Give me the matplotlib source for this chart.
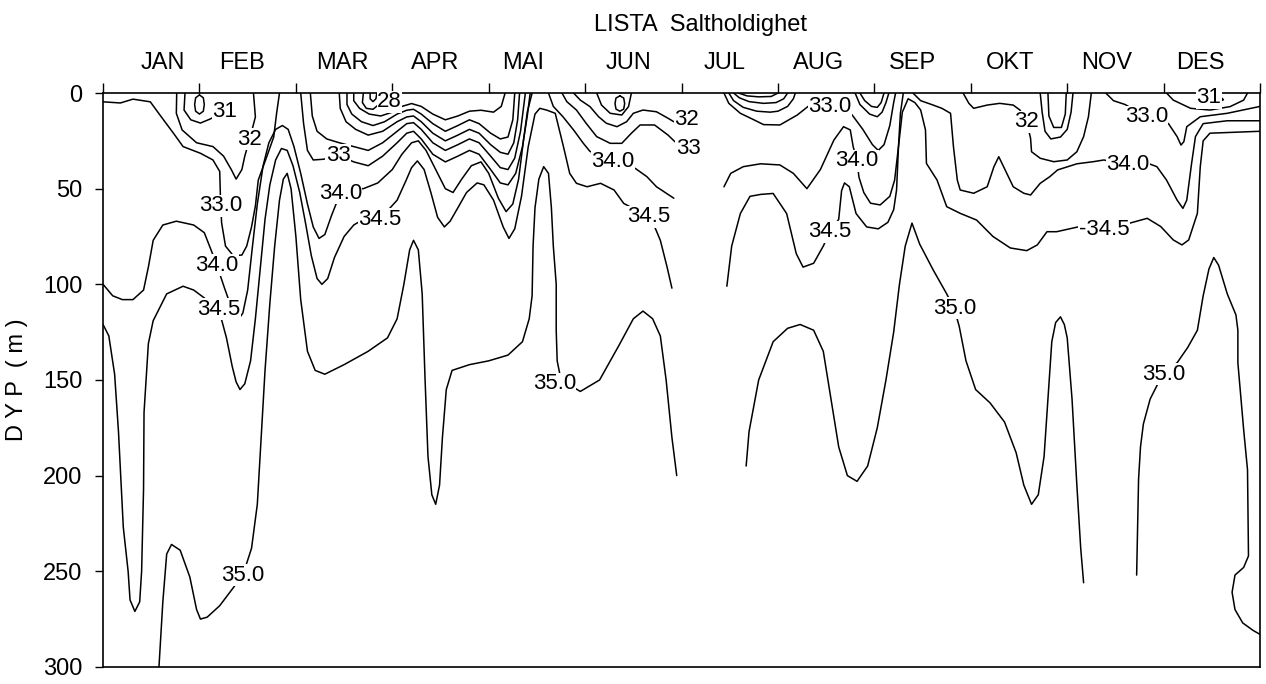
import numpy as np
import matplotlib.pyplot as plt

plt.rcParams['font.family'] = ['Liberation Sans', 'DejaVu Sans']

months = ['JAN', 'FEB', 'MAR', 'APR', 'MAI', 'JUN',
          'JUL', 'AUG', 'SEP', 'OKT', 'NOV', 'DES']
month_label_pos = [0.62, 1.44, 2.48, 3.44, 4.36, 5.45, 6.45, 7.42, 8.40, 9.41, 10.41, 11.38]
depth_ticks = [0, 50, 100, 150, 200, 250, 300]

# isolinjer som (maaned regnet fra 1. jan, dyp i m)
s350_a = [(0.58, 300), (0.62, 266), (0.66, 241), (0.71, 236), (0.80, 239), (0.90, 253),
          (0.97, 270), (1.01, 275), (1.08, 274), (1.21, 268), (1.36, 258), (1.45, 252),
          (1.54, 238), (1.6, 215), (1.64, 180), (1.68, 145), (1.73, 110), (1.78, 80),
          (1.83, 56), (1.87, 45), (1.91, 42), (1.95, 50), (2.0, 75), (2.05, 108),
          (2.12, 135), (2.2, 145), (2.3, 147), (2.5, 142), (2.75, 135), (2.95, 128),
          (3.05, 118), (3.12, 100), (3.18, 82), (3.22, 77), (3.27, 82), (3.31, 105),
          (3.34, 150), (3.37, 190), (3.41, 210), (3.45, 215), (3.49, 205), (3.52, 180),
          (3.56, 155), (3.62, 145), (3.8, 142), (4.0, 140), (4.2, 137), (4.35, 130),
          (4.42, 118), (4.45, 106), (4.46, 80), (4.48, 60), (4.52, 45), (4.57, 38.5),
          (4.62, 42), (4.65, 60), (4.67, 80), (4.70, 100), (4.70, 124), (4.71, 140),
          (4.75, 150), (4.95, 156), (5.15, 150), (5.35, 132), (5.5, 118), (5.6, 114),
          (5.7, 118), (5.78, 127), (5.84, 150), (5.9, 180), (5.95, 200)]
s350_b = [(6.67, 195), (6.7, 177), (6.8, 150), (6.95, 130), (7.1, 123), (7.23, 121),
          (7.37, 124), (7.47, 135), (7.55, 160), (7.63, 185), (7.72, 200), (7.82, 203),
          (7.93, 195), (8.03, 175), (8.12, 150), (8.2, 125), (8.26, 100), (8.32, 80),
          (8.39, 68), (8.47, 79), (8.61, 92.5), (8.75, 105), (8.83, 113), (8.88, 122),
          (8.95, 140), (9.05, 155), (9.2, 162), (9.35, 172), (9.47, 188), (9.55, 205),
          (9.63, 215), (9.7, 210), (9.76, 190), (9.8, 160), (9.84, 130), (9.88, 120),
          (9.93, 117), (9.97, 121), (10.0, 128), (10.05, 160), (10.1, 205), (10.14, 238),
          (10.17, 256)]
s350_c = [(10.72, 252), (10.74, 202), (10.76, 185), (10.79, 173), (10.86, 160),
          (10.93, 153), (11.0, 147), (11.08, 143), (11.14, 141), (11.25, 133),
          (11.35, 124), (11.41, 106), (11.47, 92), (11.52, 86), (11.57, 90),
          (11.66, 105), (11.75, 116), (11.77, 124), (11.77, 141), (11.83, 176),
          (11.87, 197), (11.88, 242), (11.83, 248), (11.74, 252), (11.71, 261),
          (11.74, 270), (11.82, 277), (11.93, 281), (12.0, 283)]
s345_a = [(0.0, 121), (0.06, 127), (0.12, 147), (0.16, 177), (0.19, 207), (0.21, 227),
          (0.26, 250), (0.28, 265), (0.33, 271), (0.38, 266), (0.40, 250), (0.42, 207),
          (0.425, 167), (0.47, 131), (0.52, 119), (0.66, 105), (0.83, 101), (0.94, 103),
          (1.02, 106), (1.1, 109), (1.2, 113), (1.28, 128), (1.34, 143), (1.38, 151),
          (1.42, 155), (1.47, 152), (1.53, 140), (1.58, 118), (1.63, 92), (1.68, 66),
          (1.73, 48), (1.79, 35), (1.85, 29), (1.91, 30), (1.97, 38), (2.04, 52),
          (2.1, 68), (2.16, 85), (2.22, 97), (2.27, 100), (2.33, 97), (2.4, 86),
          (2.5, 75), (2.6, 69), (2.7, 66), (2.87, 66), (3.05, 56), (3.14, 46),
          (3.2, 39), (3.26, 35.5), (3.33, 40), (3.4, 52), (3.47, 65), (3.54, 70),
          (3.6, 67), (3.68, 60), (3.77, 52), (3.88, 47), (3.95, 48), (4.05, 56),
          (4.15, 70), (4.21, 76), (4.27, 71), (4.34, 54), (4.41, 28), (4.48, 11),
          (4.53, 8), (4.6, 8.9), (4.69, 10.6), (4.775, 28), (4.84, 42), (4.91, 47.2),
          (5.02, 49), (5.16, 47.2), (5.3, 50.7), (5.4, 57.7), (5.66, 64.6), (5.73, 71),
          (5.78, 77), (5.85, 91), (5.90, 102)]
s345_b = [(6.47, 101), (6.52, 80), (6.61, 63), (6.71, 54), (6.82, 53), (6.95, 52.5),
          (7.09, 63), (7.19, 84), (7.26, 91), (7.37, 89), (7.47, 80), (7.54, 72.5),
          (7.63, 66), (7.66, 51), (7.69, 47), (7.74, 49), (7.81, 63), (7.92, 70),
          (8.04, 71), (8.14, 67.6), (8.2, 61), (8.23, 50.7), (8.25, 28), (8.29, 10),
          (8.35, 3), (8.42, 5), (8.48, 8.9), (8.53, 19.3), (8.54, 36.8), (8.65, 45.5),
          (8.75, 59.4), (8.89, 62.9), (9.06, 66.4), (9.23, 75), (9.41, 81), (9.58, 82.4),
          (9.69, 79.4), (9.79, 72.5), (9.89, 72.5), (10.13, 69.8), (10.41, 71.6),
          (10.65, 68), (10.83, 65.5), (10.97, 69.8), (11.1, 76.8), (11.19, 79.4),
          (11.26, 76.8), (11.35, 62.9), (11.38, 38.5), (11.41, 25), (11.48, 21),
          (12.0, 20)]
s340_a = [(0.0, 100), (0.1, 106), (0.2, 108), (0.31, 108), (0.42, 103), (0.47, 91),
          (0.52, 77), (0.62, 69), (0.76, 67), (0.94, 69), (1.05, 73), (1.12, 82),
          (1.18, 90), (1.26, 102), (1.33, 112), (1.38, 117), (1.41, 118), (1.45, 115),
          (1.5, 103), (1.55, 80), (1.6, 58), (1.66, 38), (1.72, 26), (1.79, 19),
          (1.86, 17), (1.92, 19), (1.98, 28), (2.05, 42), (2.12, 58), (2.18, 70),
          (2.24, 76), (2.3, 74), (2.37, 64), (2.46, 52.5), (2.55, 50), (2.7, 50),
          (2.85, 47), (3.0, 40), (3.1, 32), (3.2, 26), (3.27, 25), (3.35, 30),
          (3.45, 40), (3.55, 50), (3.63, 52), (3.72, 45), (3.82, 38), (3.92, 36),
          (4.0, 42), (4.1, 55), (4.18, 62), (4.25, 58), (4.31, 45), (4.36, 25),
          (4.4, 10), (4.45, 0)]
s340_b = [(4.62, 0), (4.67, 7), (4.77, 12.4), (4.88, 19.3), (4.98, 26.2), (5.05, 30.5),
          (5.29, 36), (5.52, 39.4), (5.64, 43.7), (5.74, 49), (5.92, 55)]
s340_c = [(6.44, 49), (6.51, 42), (6.64, 38.5), (6.82, 37), (7.02, 37.6), (7.16, 42),
          (7.30, 50), (7.44, 40), (7.58, 24.6), (7.68, 17.6), (7.75, 19.3), (7.78, 28),
          (7.82, 35.5), (7.84, 44), (7.89, 52), (7.96, 57.6), (8.06, 58.5), (8.16, 54),
          (8.21, 45.5), (8.25, 28), (8.27, 10.6), (8.30, 0)]
s340_d = [(8.40, 0), (8.48, 4), (8.61, 6.3), (8.70, 8), (8.79, 10.6), (8.82, 28),
          (8.86, 45.5), (8.89, 50.7), (9.03, 52.4), (9.17, 49), (9.24, 38.5), (9.29, 33.3),
          (9.34, 38.5), (9.44, 49), (9.55, 52.4), (9.62, 53.3), (9.72, 47.2), (9.82, 43.7),
          (9.9, 40.2), (10.1, 37), (10.27, 35.9), (10.38, 35), (10.63, 37.6), (10.85, 37),
          (10.93, 38.5), (11.03, 45.5), (11.14, 56), (11.2, 60.3), (11.24, 56),
          (11.29, 36.8), (11.33, 22.8), (11.41, 16), (11.66, 14.5), (12.0, 14.5)]
s330_a = [(0.0, 4.6), (0.18, 5.2), (0.31, 3.2), (0.49, 4.6), (0.59, 11.5), (0.73, 21),
          (0.83, 28), (1.01, 31.5), (1.14, 35), (1.21, 41), (1.22, 59), (1.23, 68),
          (1.27, 80), (1.35, 85), (1.44, 84.7), (1.49, 80), (1.54, 70), (1.58, 59),
          (1.61, 45.5), (1.70, 33), (1.77, 23), (1.80, 10.6), (1.83, 0)]
s330_b = [(2.05, 0), (2.08, 16), (2.12, 30), (2.18, 35), (2.29, 34.6), (2.44, 32.4),
          (2.6, 36), (2.75, 38), (2.9, 33), (3.05, 26), (3.15, 21), (3.22, 20),
          (3.3, 24), (3.42, 32), (3.55, 36), (3.68, 33), (3.8, 30), (3.9, 32),
          (4.02, 40), (4.12, 47), (4.2, 48), (4.28, 42), (4.35, 28), (4.4, 12), (4.43, 0)]
s330_c = [(4.76, 0), (4.81, 4.5), (4.91, 8.9), (5.01, 15.8), (5.12, 22.8), (5.26, 26.3),
          (5.38, 26.3), (5.48, 21), (5.57, 16.7), (5.72, 16.7), (5.86, 22), (5.93, 25.4),
          (6.07, 29)]
s330_d = [(6.44, 0), (6.49, 5.4), (6.61, 10.6), (6.75, 14), (6.85, 16.5), (7.02, 16.7),
          (7.2, 11.5), (7.33, 6.3), (7.54, 7), (7.68, 7), (7.77, 11.5), (7.88, 19),
          (7.98, 27), (8.04, 30), (8.1, 27), (8.16, 17), (8.2, 5), (8.22, 0)]
s330_e = [(10.4, 0), (10.48, 4), (10.6, 6), (10.82, 12.4), (11.05, 16), (11.14, 22.8),
          (11.18, 27.2), (11.21, 25.4), (11.24, 17.6), (11.38, 12.4), (11.66, 10.6),
          (12.0, 7)]
s320_a = [(0.764, 0), (0.76, 10.6), (0.82, 19.3), (0.97, 26), (1.14, 28), (1.25, 33),
          (1.33, 40), (1.38, 45), (1.44, 40), (1.47, 33), (1.52, 24.2), (1.58, 12.5),
          (1.56, 0)]
s320_b = [(2.15, 0), (2.17, 12), (2.22, 20), (2.32, 24), (2.45, 26), (2.6, 28),
          (2.75, 30), (2.9, 26), (3.05, 20), (3.15, 16), (3.22, 15.5), (3.3, 19),
          (3.42, 26), (3.55, 30), (3.68, 27), (3.8, 24), (3.9, 26), (4.02, 33),
          (4.12, 39), (4.2, 40), (4.27, 34), (4.33, 20), (4.36, 8), (4.38, 0)]
s320_c = [(4.88, 0), (4.95, 3.7), (5.05, 7.1), (5.14, 12.4), (5.22, 15.8), (5.33, 17.6),
          (5.43, 15), (5.50, 10.6), (5.60, 8.9), (5.74, 9.8), (5.86, 13.2), (5.92, 15),
          (6.05, 14)]
s320_d = [(6.49, 0), (6.54, 4), (6.64, 7.5), (6.78, 9.5), (6.92, 10), (7.0, 9.5),
          (7.1, 7), (7.16, 3), (7.18, 0)]
s320_e = [(7.80, 0), (7.85, 6), (7.95, 11), (8.03, 12.4), (8.08, 10), (8.12, 5), (8.15, 0)]
s320_f = [(8.92, 0), (8.98, 5.4), (9.03, 8), (9.17, 6.3), (9.30, 5.4), (9.44, 6.3),
          (9.51, 8.9), (9.58, 15), (9.62, 23.7), (9.63, 30.7), (9.72, 34.1), (9.86, 35.9),
          (10.0, 35), (10.1, 30.7), (10.17, 22.8), (10.22, 12.4), (10.25, 0)]
s310_a = [(0.85, 0), (0.84, 8.9), (0.91, 14), (1.01, 15.7), (1.11, 13.6), (1.26, 9.8)]
s310_b = [(2.45, 0), (2.46, 8), (2.52, 15), (2.62, 19), (2.75, 22), (2.9, 20),
          (3.05, 15), (3.15, 12.5), (3.22, 12), (3.3, 15), (3.42, 21), (3.55, 25),
          (3.68, 22), (3.8, 19), (3.9, 21), (4.02, 27), (4.12, 31), (4.2, 32),
          (4.26, 26), (4.3, 14), (4.32, 0)]
s310_c = [(5.12, 0), (5.17, 6.3), (5.26, 10.6), (5.38, 11.5), (5.45, 7.1), (5.48, 0)]
s310_d = [(6.54, 0), (6.6, 2.5), (6.7, 4.5), (6.85, 5.4), (6.98, 5), (7.06, 3), (7.1, 0)]
s310_e = [(7.85, 0), (7.9, 4), (7.97, 7), (8.03, 7.5), (8.07, 5), (8.1, 0)]
s310_f = [(9.72, 0), (9.74, 10), (9.77, 20), (9.83, 24), (9.93, 23), (10.0, 19),
          (10.04, 10), (10.06, 0)]
s310_g = [(11.03, 0), (11.10, 3.7), (11.28, 8), (11.48, 8.9), (11.69, 7.1),
          (11.83, 3.7), (11.87, 0)]
s300_a = [(2.53, 0), (2.53, 6), (2.58, 11), (2.68, 15), (2.8, 17), (2.92, 15),
          (3.05, 11), (3.15, 9), (3.22, 8.5), (3.3, 11), (3.42, 16), (3.55, 20),
          (3.68, 17), (3.8, 14), (3.9, 16), (4.02, 21), (4.12, 24), (4.2, 23),
          (4.25, 14), (4.27, 0)]
s300_b = [(6.59, 0), (6.68, 1.5), (6.8, 2), (6.93, 1.8), (7.0, 0)]
s300_c = [(9.80, 0), (9.81, 12), (9.86, 18), (9.94, 18), (9.98, 11), (9.99, 0)]
s290_a = [(2.6, 0), (2.6, 4), (2.66, 8), (2.76, 11), (2.88, 12), (3.0, 10),
          (3.1, 7), (3.2, 5.5), (3.3, 7), (3.42, 11), (3.55, 14), (3.68, 12),
          (3.8, 9.5), (3.92, 9), (4.05, 10), (4.13, 7), (4.17, 0)]
s280_a = [(2.70, 0), (2.69, 5), (2.73, 8), (2.8, 8.5), (2.86, 6)]
s280_b = [(2.77, 0), (2.77, 3), (2.8, 4.5), (2.83, 3), (2.84, 0)]
loop_feb = [(1.0, 1), (1.04, 2.5), (1.05, 6), (1.04, 9.5), (1.0, 11), (0.96, 9.5),
            (0.95, 6), (0.96, 2.5), (1.0, 1)]
loop_jun = [(5.36, 1.5), (5.40, 2.6), (5.41, 5.5), (5.40, 8.4), (5.36, 9.5),
            (5.32, 8.4), (5.31, 5.5), (5.32, 2.6), (5.36, 1.5)]
loop_des = [(11.55, 1.5), (11.6, 2.5), (11.62, 3.5), (11.58, 4.5)]

segments = [s350_a, s350_b, s350_c, s345_a, s345_b, s340_a, s340_b, s340_c, s340_d,
            s330_a, s330_b, s330_c, s330_d, s330_e, s320_a, s320_b, s320_c, s320_d,
            s320_e, s320_f, s310_a, s310_b, s310_c, s310_d, s310_e, s310_f, s310_g,
            s300_a, s300_b, s300_c, s290_a, s280_a, s280_b, loop_feb, loop_jun, loop_des]

# etiketter: tekst, maaned, dyp
labels = [('31', 1.26, 9.8), ('32', 1.52, 24.2), ('33.0', 1.22, 59),
          ('34.0', 1.18, 90), ('34.5', 1.2, 113), ('35.0', 1.45, 252),
          ('28', 2.97, 4.5), ('33', 2.44, 32.4), ('34.0', 2.46, 52.5), ('34.5', 2.87, 66),
          ('35.0', 4.68, 152), ('34.0', 5.29, 36), ('34.5', 5.66, 64.6), ('32', 6.05, 14),
          ('33', 6.07, 29), ('33.0', 7.54, 7), ('34.0', 7.82, 35.5), ('34.5', 7.54, 72.5),
          ('35.0', 8.83, 112.6), ('32', 9.58, 15), ('33.0', 10.82, 12.4),
          ('34.0', 10.63, 37.6), ('-34.5', 10.38, 71.6), ('35.0', 11.0, 147),
          ('31', 11.47, 2.5)]

fig = plt.figure(figsize=(12.66, 6.84), dpi=100)
ax = fig.add_axes([0.0814, 0.025, 0.9139, 0.839])

for seg in segments:
    seg = np.array(seg)
    ax.plot(seg[:, 0], seg[:, 1], color='black', lw=1.1,
            solid_joinstyle='round', solid_capstyle='round')

for txt, m, d in labels:
    ax.text(m, d, txt, ha='center', va='center', fontsize=16, zorder=3,
            bbox=dict(fc='white', ec='none', pad=0.3))

ax.set_xlim(0, 12)
ax.set_ylim(300, 0)
ax.xaxis.tick_top()
ax.set_xticks(range(13))
ax.set_xticklabels([])
ax.set_xticks(month_label_pos, minor=True)
ax.set_xticklabels(months, minor=True, fontsize=17)
ax.tick_params(axis='x', which='major', direction='out', length=7, width=1)
ax.tick_params(axis='x', which='minor', length=0, pad=14)
ax.set_yticks(depth_ticks)
ax.set_yticklabels([str(d) for d in depth_ticks], fontsize=17)
ax.tick_params(axis='y', direction='out', length=6, width=1, pad=9)
ax.set_ylabel('D Y P  ( m )', fontsize=17)
ax.yaxis.set_label_coords(-0.065, 0.5)
for sp in ax.spines.values():
    sp.set_linewidth(1.2)

fig.text(0.553, 0.963, 'LISTA  Saltholdighet', ha='center', va='center', fontsize=17)

fig.savefig('out.png', dpi=100)
